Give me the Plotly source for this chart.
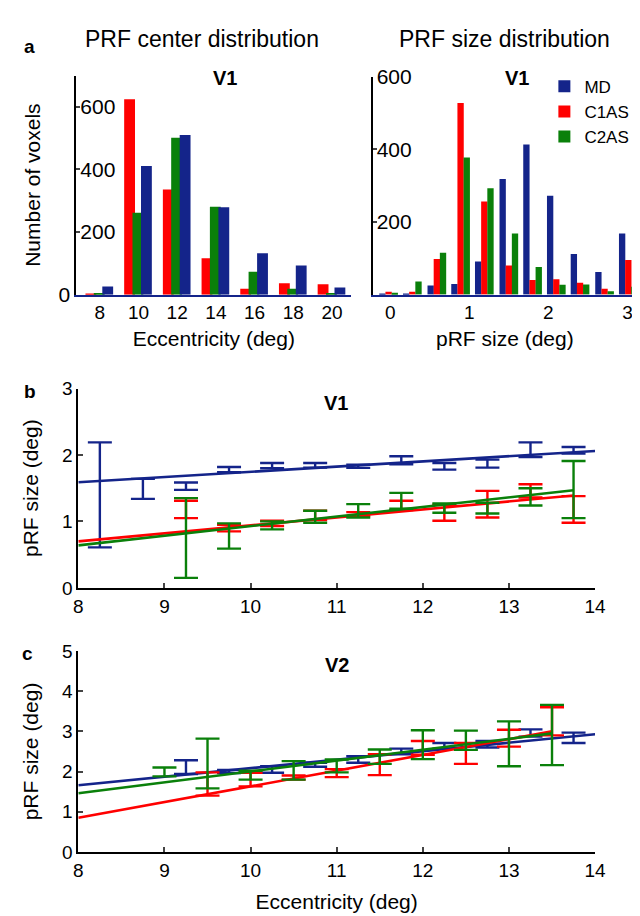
import plotly.graph_objects as go

# ---------------- data ----------------
# Panel a, left: pRF center distribution (number of voxels per eccentricity bin)
ecc_bins = [8, 10, 12, 14, 16, 18, 20]
ecc_md = [26, 411, 510, 279, 132, 93, 23]
ecc_c1as = [2, 624, 336, 116, 19, 36, 33]
ecc_c2as = [5, 262, 501, 281, 73, 19, 5]

# Panel a, right: pRF size distribution
size_bins = [-0.02, 0.28, 0.59, 0.89, 1.19, 1.50, 1.80, 2.10, 2.40, 2.71, 3.01]
size_md = [2, 2, 25, 29, 91, 318, 413, 272, 112, 62, 168]
size_c1as = [8, 8, 98, 527, 256, 80, 40, 42, 33, 16, 95]
size_c2as = [5, 36, 115, 377, 293, 168, 76, 27, 28, 9, 22]

# Panel b: V1 pRF size vs eccentricity (mean +/- error)
b_md_x = [8.25, 8.75, 9.25, 9.75, 10.25, 10.75, 11.25, 11.75, 12.25, 12.75, 13.25, 13.75]
b_md_y = [1.40, 1.49, 1.53, 1.78, 1.84, 1.845, 1.83, 1.92, 1.83, 1.87, 2.08, 2.07]
b_md_e = [0.79, 0.15, 0.055, 0.04, 0.04, 0.035, 0.025, 0.06, 0.05, 0.06, 0.11, 0.05]
b_as_x = [9.25, 9.75, 10.25, 10.75, 11.25, 11.75, 12.25, 12.75, 13.25, 13.75]
b_c1_y = [1.18, 0.90, 0.97, 1.09, 1.11, 1.24, 1.13, 1.26, 1.46, 1.18]
b_c1_e = [0.13, 0.05, 0.04, 0.07, 0.03, 0.07, 0.12, 0.20, 0.10, 0.20]
b_c2_y = [0.75, 0.78, 0.94, 1.07, 1.16, 1.31, 1.20, 1.20, 1.37, 1.48]
b_c2_e = [0.60, 0.19, 0.06, 0.09, 0.10, 0.12, 0.07, 0.08, 0.13, 0.43]
# Panel b linear fits (endpoints)
b_fit_md_x, b_fit_md_y = [8, 14], [1.59, 2.06]
b_fit_c1_x, b_fit_c1_y = [8, 13.75], [0.70, 1.39]
b_fit_c2_x, b_fit_c2_y = [8, 13.75], [0.64, 1.47]

# Panel c: V2 pRF size vs eccentricity
c_md_x = [9.25, 9.75, 10.25, 10.75, 11.25, 11.75, 12.25, 12.75, 13.25, 13.75]
c_md_y = [2.11, 2.00, 2.05, 2.17, 2.30, 2.50, 2.64, 2.68, 2.96, 2.84]
c_md_e = [0.17, 0.04, 0.08, 0.05, 0.08, 0.07, 0.07, 0.08, 0.09, 0.13]
c_c1_x = [9.5, 10.0, 10.5, 11.0, 11.5, 12.0, 12.5, 13.0, 13.5]
c_c1_y = [1.69, 1.80, 1.85, 1.96, 2.17, 2.59, 2.45, 2.83, 3.25]
c_c1_e = [0.29, 0.17, 0.05, 0.10, 0.26, 0.17, 0.26, 0.21, 0.35]
c_c2_x = [9.0, 9.5, 10.0, 10.5, 11.0, 11.5, 12.0, 12.5, 13.0, 13.5]
c_c2_y = [1.99, 2.20, 1.91, 2.03, 2.14, 2.37, 2.67, 2.78, 2.69, 2.91]
c_c2_e = [0.11, 0.62, 0.11, 0.23, 0.16, 0.18, 0.36, 0.24, 0.56, 0.75]
c_fit_md_x, c_fit_md_y = [8, 14], [1.66, 2.93]
c_fit_c1_x, c_fit_c1_y = [8, 13.5], [0.85, 3.00]
c_fit_c2_x, c_fit_c2_y = [8, 13.5], [1.46, 2.95]

# ---------------- style ----------------
BLUE = "#14248a"
RED = "#ff0000"
GREEN = "#0a800a"
FONT = "Liberation Sans, Arial, sans-serif"
W, H = 640, 916

def px(x):
    return x / W

def py(y):
    return 1 - y / H

fig = go.Figure()

# Left histogram: red, green, blue
LW = 0.56
for name, vals, col, ctr in [("C1AS", ecc_c1as, RED, -0.46),
                             ("C2AS", ecc_c2as, GREEN, -0.03),
                             ("MD", ecc_md, BLUE, 0.41)]:
    fig.add_trace(go.Bar(x=ecc_bins, y=vals, width=LW, offset=ctr - LW / 2,
                         marker=dict(color=col, line=dict(width=0)),
                         name=name, showlegend=False, xaxis="x", yaxis="y"))

# Right histogram: blue, red, green
RW = 0.08
for name, vals, col, ctr in [("MD", size_md, BLUE, -0.078),
                             ("C1AS", size_c1as, RED, 0.0),
                             ("C2AS", size_c2as, GREEN, 0.078)]:
    fig.add_trace(go.Bar(x=size_bins, y=vals, width=RW, offset=ctr - RW / 2,
                         marker=dict(color=col, line=dict(width=0)),
                         name=name, legendgroup=name, showlegend=True,
                         xaxis="x2", yaxis="y2"))

# empty helper traces so that the label-only overlay axes get drawn
fig.add_trace(go.Scatter(x=[], y=[], xaxis="x", yaxis="y5", showlegend=False,
                         hoverinfo="skip"))
fig.add_trace(go.Scatter(x=[], y=[], xaxis="x2", yaxis="y6", showlegend=False,
                         hoverinfo="skip"))

def err_trace(x, y, e, col, xa, ya):
    return go.Scatter(x=x, y=y, mode="markers",
                      marker=dict(size=1, color=col),
                      error_y=dict(type="data", array=e, visible=True,
                                   color=col, thickness=2.4, width=12),
                      showlegend=False, xaxis=xa, yaxis=ya, hoverinfo="x+y")

def fit_trace(x, y, col, xa, ya):
    return go.Scatter(x=x, y=y, mode="lines", line=dict(color=col, width=2.6),
                      showlegend=False, xaxis=xa, yaxis=ya)

# Panel b
fig.add_trace(err_trace(b_md_x, b_md_y, b_md_e, BLUE, "x3", "y3"))
fig.add_trace(fit_trace(b_fit_md_x, b_fit_md_y, BLUE, "x3", "y3"))
fig.add_trace(err_trace(b_as_x, b_c1_y, b_c1_e, RED, "x3", "y3"))
fig.add_trace(fit_trace(b_fit_c1_x, b_fit_c1_y, RED, "x3", "y3"))
fig.add_trace(err_trace(b_as_x, b_c2_y, b_c2_e, GREEN, "x3", "y3"))
fig.add_trace(fit_trace(b_fit_c2_x, b_fit_c2_y, GREEN, "x3", "y3"))

# Panel c
fig.add_trace(err_trace(c_md_x, c_md_y, c_md_e, BLUE, "x4", "y4"))
fig.add_trace(fit_trace(c_fit_md_x, c_fit_md_y, BLUE, "x4", "y4"))
fig.add_trace(err_trace(c_c1_x, c_c1_y, c_c1_e, RED, "x4", "y4"))
fig.add_trace(fit_trace(c_fit_c1_x, c_fit_c1_y, RED, "x4", "y4"))
fig.add_trace(err_trace(c_c2_x, c_c2_y, c_c2_e, GREEN, "x4", "y4"))
fig.add_trace(fit_trace(c_fit_c2_x, c_fit_c2_y, GREEN, "x4", "y4"))

tickf = dict(family=FONT, size=19, color="black")
hyf = dict(family=FONT, size=21, color="black")
titlef = dict(family=FONT, size=21, color="black")

common_x = dict(showgrid=False, zeroline=False, tickfont=tickf)
common_y = dict(showgrid=False, zeroline=False, tickfont=tickf)

hist_left_dom = [px(65), px(347)]
hist_right_dom = [px(369), 1.0]
hist_y_dom = [py(281.7), py(57)]
hist2_y_dom = [py(281.7), py(58)]

fig.update_layout(
    width=W, height=H,
    margin=dict(l=0, r=0, t=0, b=0),
    paper_bgcolor="white", plot_bgcolor="white",
    font=dict(family=FONT, color="black"),
    barmode="overlay",
    showlegend=True,
    legend=dict(x=px(545), y=py(50), xanchor="left", yanchor="top",
                font=dict(family=FONT, size=17, color="black"),
                tracegroupgap=11, bgcolor="rgba(0,0,0,0)", traceorder="normal"),
    # panel a left
    xaxis=dict(common_x, domain=hist_left_dom, range=[6.79, 21.0],
               tickvals=ecc_bins, ticks="", showline=True, linecolor=BLUE,
               linewidth=2, anchor="y",
               title=dict(text="Eccentricity (deg)", font=titlef, standoff=9)),
    yaxis=dict(common_y, domain=hist_y_dom, range=[0, 700],
               tickvals=[0, 200, 400, 600], ticktext=["0", "", "", ""],
               ticks="inside", ticklen=4, tickwidth=2,
               showline=True, linecolor="black", linewidth=2, anchor="x",
               tickfont=hyf,
               title=dict(text="Number of voxels", font=titlef, standoff=12)),
    # labels of the left histogram drawn just right of its axis line
    yaxis5=dict(common_y, overlaying="y", side="right", anchor="free",
                position=px(68), range=[0, 700], tickvals=[200, 400, 600],
                ticks="", showline=False, tickfont=hyf),
    # panel a right
    xaxis2=dict(common_x, domain=hist_right_dom, range=[-0.22, 3.12],
                tickvals=[0, 1, 2, 3], ticks="", showline=True, linecolor=BLUE,
                linewidth=2, anchor="y2",
                title=dict(text="pRF size (deg)", font=titlef, standoff=9)),
    yaxis2=dict(common_y, domain=hist2_y_dom, range=[0, 600],
                tickvals=[200, 400, 600], showticklabels=False,
                ticks="inside", ticklen=4, tickwidth=2,
                showline=True, linecolor="black", linewidth=2, anchor="x2"),
    yaxis6=dict(common_y, overlaying="y2", side="right", anchor="free",
                position=px(372), range=[0, 600], tickvals=[200, 400, 600],
                ticks="", showline=False, tickfont=hyf),
    # panel b
    xaxis3=dict(common_x, domain=[px(67), px(597)], range=[8, 14],
                tickvals=[8, 9, 10, 11, 12, 13, 14], ticks="inside", ticklen=5,
                tickwidth=2, showline=True, linecolor="black", linewidth=2,
                anchor="y3"),
    yaxis3=dict(common_y, domain=[py(582.5), py(378)], range=[0, 3],
                tickvals=[0, 1, 2, 3], ticks="inside", ticklen=5, tickwidth=2,
                showline=True, linecolor="black", linewidth=2, anchor="x3",
                title=dict(text="pRF size (deg)", font=titlef, standoff=18)),
    # panel c
    xaxis4=dict(common_x, domain=[px(67), px(597)], range=[8, 14],
                tickvals=[8, 9, 10, 11, 12, 13, 14], ticks="inside", ticklen=5,
                tickwidth=2, showline=True, linecolor="black", linewidth=2,
                anchor="y4",
                title=dict(text="Eccentricity (deg)", font=titlef, standoff=15)),
    yaxis4=dict(common_y, domain=[py(853.3), py(647.3)], range=[0, 5],
                tickvals=[0, 1, 2, 3, 4, 5], ticks="inside", ticklen=5, tickwidth=2,
                showline=True, linecolor="black", linewidth=2, anchor="x4",
                title=dict(text="pRF size (deg)", font=titlef, standoff=18)),
)

def ann(text, x, y, size, bold=False, xanchor="center"):
    fig.add_annotation(text=f"<b>{text}</b>" if bold else text,
                       x=px(x), y=py(y), xref="paper", yref="paper",
                       xanchor=xanchor, yanchor="middle", showarrow=False,
                       font=dict(family=FONT, size=size, color="black"))

ann("a", 17, 27, 19, bold=True)
ann("PRF center distribution", 194, 20, 23)
ann("PRF size distribution", 504, 20, 23)
ann("V1", 217, 60, 20, bold=True)
ann("V1", 517, 60, 20, bold=True)
ann("b", 17, 381, 19, bold=True)
ann("V1", 331, 393, 20, bold=True)
ann("c", 15, 650, 19, bold=True)
ann("V2", 332, 662, 20, bold=True)

fig.write_html("out.html")
